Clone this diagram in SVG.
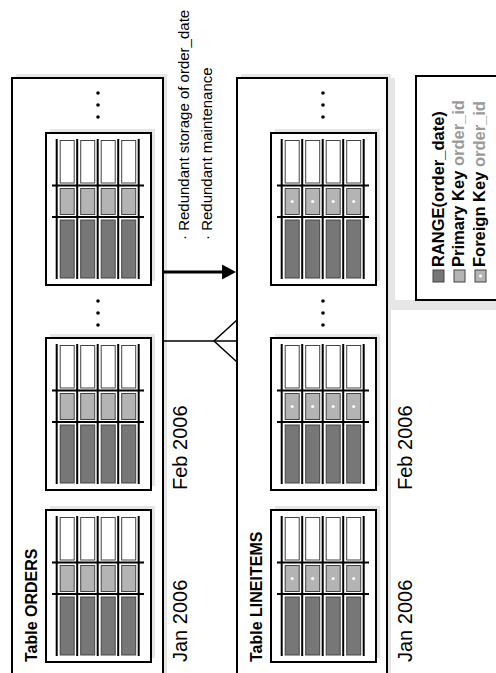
<svg xmlns="http://www.w3.org/2000/svg" xmlns:xlink="http://www.w3.org/1999/xlink" width="496" height="673" viewBox="0 0 496 673">
<style>
text{font-family:"Liberation Sans",Arial,Helvetica,sans-serif;fill:#000}
.title{font-size:16px;font-weight:bold}
.date{font-size:20px}
.note{font-size:15px}
.leg{font-size:16.5px;font-weight:bold}
.gray{fill:#9a9a9a}
.shadow{fill:#e6e6e6;stroke:none}
.frame{fill:#fff;stroke:#000;stroke-width:2}
.bar{stroke:#000;stroke-width:2}
.cw{fill:#fff;stroke:#444;stroke-width:1}
.cl{fill:#b4b4b4;stroke:#444;stroke-width:1}
.cd{fill:#777;stroke:#444;stroke-width:1}
.conn{stroke:#000;fill:none}
</style>
<defs>
<g id="partBase">
<rect class="shadow" x="4" y="-4" width="105" height="152"/>
<rect class="frame" x="0" y="0" width="105" height="152"/>
<g class="cw">
<rect x="14.2" y="7.5" width="14" height="42.5"/><rect x="34.7" y="7.5" width="14" height="42.5"/><rect x="55.2" y="7.5" width="14" height="42.5"/><rect x="75.7" y="7.5" width="14" height="42.5"/>
</g>
<g class="cl">
<rect x="14.2" y="55.5" width="14" height="26"/><rect x="34.7" y="55.5" width="14" height="26"/><rect x="55.2" y="55.5" width="14" height="26"/><rect x="75.7" y="55.5" width="14" height="26"/>
</g>
<g class="cd">
<rect x="14.2" y="87" width="14" height="58"/><rect x="34.7" y="87" width="14" height="58"/><rect x="55.2" y="87" width="14" height="58"/><rect x="75.7" y="87" width="14" height="58"/>
</g>
<g class="bar">
<line x1="10.7" y1="6" x2="10.7" y2="146"/><line x1="31.2" y1="6" x2="31.2" y2="146"/><line x1="51.7" y1="6" x2="51.7" y2="146"/><line x1="72.2" y1="6" x2="72.2" y2="146"/><line x1="92.7" y1="6" x2="92.7" y2="146"/>
<line x1="6" y1="52.5" x2="98" y2="52.5"/><line x1="6" y1="84" x2="98" y2="84"/>
</g>
</g>
<g id="fkDots" fill="#fff">
<circle cx="21.2" cy="68.5" r="1.6"/><circle cx="41.7" cy="68.5" r="1.6"/><circle cx="62.2" cy="68.5" r="1.6"/><circle cx="82.7" cy="68.5" r="1.6"/>
</g>
<g id="vdots" fill="#000">
<circle cx="0" cy="0" r="1.8"/><circle cx="0" cy="12" r="1.8"/><circle cx="0" cy="24" r="1.8"/>
</g>
</defs>

<g id="orders">
<rect class="shadow" x="16" y="74" width="151" height="620"/>
<rect class="frame" x="12" y="78" width="151" height="620"/>
<use xlink:href="#vdots" x="98" y="93"/>
<use xlink:href="#vdots" x="98" y="301"/>
<g id="orders-p1"><use xlink:href="#partBase" x="46" y="133"/></g>
<g id="orders-p2"><use xlink:href="#partBase" x="46" y="338"/></g>
<g id="orders-p3"><use xlink:href="#partBase" x="46" y="510"/></g>
<text class="title" transform="translate(37,662) rotate(-90)">Table ORDERS</text>
<text class="date" transform="translate(187,662) rotate(-90)">Jan 2006</text>
<text class="date" transform="translate(187,490) rotate(-90)">Feb 2006</text>
</g>

<g id="lineitems">
<rect class="shadow" x="241" y="74" width="150" height="620"/>
<rect class="frame" x="237" y="78" width="150" height="620"/>
<use xlink:href="#vdots" x="323" y="93"/>
<use xlink:href="#vdots" x="323" y="301"/>
<g id="lineitems-p1"><use xlink:href="#partBase" x="271" y="133"/><use xlink:href="#fkDots" x="271" y="133"/></g>
<g id="lineitems-p2"><use xlink:href="#partBase" x="271" y="338"/><use xlink:href="#fkDots" x="271" y="338"/></g>
<g id="lineitems-p3"><use xlink:href="#partBase" x="271" y="510"/><use xlink:href="#fkDots" x="271" y="510"/></g>
<text class="title" transform="translate(262,662) rotate(-90)">Table LINEITEMS</text>
<text class="date" transform="translate(412,662) rotate(-90)">Jan 2006</text>
<text class="date" transform="translate(412,490) rotate(-90)">Feb 2006</text>
</g>

<g id="connectors">
<line class="conn" x1="163" y1="272" x2="223" y2="272" stroke-width="3"/>
<polygon points="222,264.5 236,272 222,279.5" fill="#000"/>
<line class="conn" x1="163" y1="341" x2="237" y2="341" stroke-width="1.5"/>
<polyline class="conn" points="237,320 214,341 237,362" stroke-width="1.5"/>
</g>

<g id="annotation">
<text class="note" transform="translate(189,240) rotate(-90)">· Redundant storage of order_date</text>
<text class="note" transform="translate(212,240) rotate(-90)">· Redundant maintenance</text>
</g>

<g id="legend">
<rect class="shadow" x="390" y="78" width="106" height="232"/>
<rect x="395" y="78" width="101" height="222" fill="#fff"/>
<rect class="frame" x="416" y="76" width="90" height="224"/>
<rect x="433" y="270" width="11" height="12" fill="#777" stroke="#444" stroke-width="1"/>
<rect x="454" y="270" width="11" height="12" fill="#b4b4b4" stroke="#444" stroke-width="1"/>
<rect x="475" y="270" width="11" height="12" fill="#b4b4b4" stroke="#444" stroke-width="1"/>
<circle cx="480.5" cy="276" r="1.5" fill="#fff"/>
<text class="leg" transform="translate(444,267) rotate(-90)">RANGE(order_date)</text>
<text class="leg" transform="translate(464,267) rotate(-90)">Primary Key <tspan class="gray">order_id</tspan></text>
<text class="leg" transform="translate(485,267) rotate(-90)">Foreign Key <tspan class="gray">order_id</tspan></text>
</g>
</svg>
